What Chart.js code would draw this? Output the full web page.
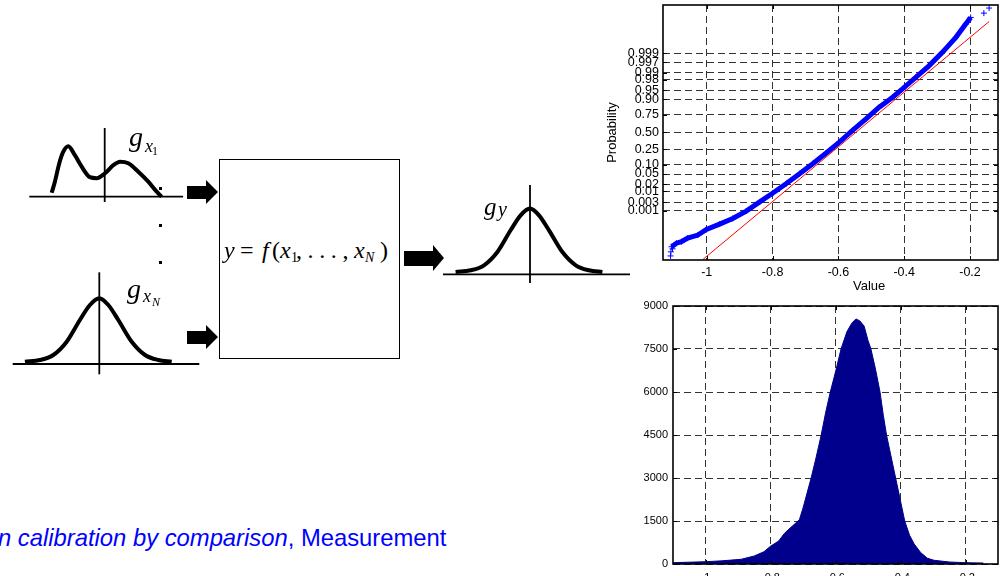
<!DOCTYPE html>
<html><head><meta charset="utf-8">
<script src="https://cdn.jsdelivr.net/npm/chart.js@4.4.0/dist/chart.umd.min.js"></script>
<style>
html,body{margin:0;padding:0;background:#fff;}
#stage{position:relative;width:1003px;height:576px;overflow:hidden;background:#fff;font-family:"Liberation Sans",Arial,sans-serif;}
canvas{position:absolute;display:block;}
.t{position:absolute;white-space:nowrap;line-height:1;}
.serif{font-family:"Liberation Serif","Times New Roman",serif;}
.m{font-size:24px;top:238px;}
.ms{font-size:14px;top:251px;}
.box{position:absolute;left:219px;top:159px;width:181px;height:200px;border:1.6px solid #000;box-sizing:border-box;}
.ab{position:absolute;background:#000;}
.ah{position:absolute;width:0;height:0;border-style:solid;border-color:transparent transparent transparent #000;}
.dot{position:absolute;width:2.5px;height:2.5px;background:#000;}
</style></head>
<body>
<div id="stage">
  <canvas id="gx1" width="165" height="90" style="left:25px;top:120px"></canvas>
  <canvas id="gxN" width="200" height="115" style="left:5px;top:265px"></canvas>
  <canvas id="gy" width="200" height="112" style="left:435px;top:178px"></canvas>
  <canvas id="prob" width="403" height="300" style="left:600px;top:0px"></canvas>
  <canvas id="hist" width="403" height="286" style="left:600px;top:290px"></canvas>

  <div class="box"></div>
  <!-- arrows -->
  <div class="ab" style="left:187px;top:186px;width:20px;height:13px"></div>
  <div class="ah" style="left:206px;top:180px;border-width:12.5px 0 12.5px 12px"></div>
  <div class="ab" style="left:187px;top:331px;width:20px;height:13px"></div>
  <div class="ah" style="left:206px;top:325px;border-width:12.5px 0 12.5px 12px"></div>
  <div class="ab" style="left:404px;top:251px;width:30px;height:15px"></div>
  <div class="ah" style="left:433px;top:245px;border-width:13.5px 0 13.5px 11px"></div>
  <div class="dot" style="left:159px;top:187px"></div>
  <div class="dot" style="left:159px;top:224px"></div>
  <div class="dot" style="left:159px;top:261px"></div>

  <span class="t serif" style="left:129px;top:123px;font-size:28px;font-style:italic">g</span>
  <span class="t serif" style="left:145px;top:137px;font-size:18px;font-style:italic">x</span>
  <span class="t serif" style="left:152px;top:145px;font-size:12px">1</span>

  <span class="t serif" style="left:127px;top:275px;font-size:28px;font-style:italic">g</span>
  <span class="t serif" style="left:143px;top:287px;font-size:18px;font-style:italic">x</span>
  <span class="t serif" style="left:152px;top:296px;font-size:12px;font-style:italic">N</span>

  <span class="t serif" style="left:484px;top:194px;font-size:25px;font-style:italic">g</span>
  <span class="t serif" style="left:498px;top:199px;font-size:20px;font-style:italic">y</span>

  <!-- y = f(x1,...,xN) -->
  <span class="t serif m" style="left:224px;font-style:italic">y</span>
  <span class="t serif m" style="left:240px">=</span>
  <span class="t serif m" style="left:262px;font-style:italic">f</span>
  <span class="t serif m" style="left:272px">(</span>
  <span class="t serif m" style="left:280px;font-style:italic">x</span>
  <span class="t serif ms" style="left:291px">1</span>
  <span class="t serif m" style="left:296px;letter-spacing:5.6px">,...,</span>
  <span class="t serif m" style="left:354px;font-style:italic">x</span>
  <span class="t serif ms" style="left:365px;font-style:italic">N</span>
  <span class="t serif m" style="left:380px">)</span>

  <div class="t" style="left:853px;top:279px;font-size:13px;">Value</div>

  <div class="t" style="left:-2px;top:526px;font-size:23.8px;color:#0000ff"><i>n calibration by comparison</i>, Measurement</div>
</div>
<script>
// ---------------- data ----------------
// left diagram: input / output densities (arbitrary units)
const gx1X = [-2.65,-2.49,-2.27,-2.07,-1.82,-1.49,-1.15,-0.74,-0.40,0.02,0.43,0.77,1.18,1.68,2.18,2.60,2.85];
const gx1Y = [0.08,0.30,0.67,0.90,1.01,0.83,0.60,0.39,0.37,0.47,0.63,0.70,0.67,0.50,0.30,0.10,0.0];
const gaussX = [-3.72,-2.97,-2.30,-1.63,-0.97,-0.47,0,0.45,0.95,1.62,2.29,2.95,3.62];
const gaussY = [0.046,0.08,0.18,0.446,0.88,1.18,1.314,1.18,0.88,0.446,0.18,0.08,0.046];
const gx1AxisH = [-3.77, 3.92], gx1AxisV = [-0.106, 1.374];
const gxNAxisH = [-4.33, 5.0],  gxNAxisV = [-0.206, 1.834];
const gyAxisH  = [-4.35, 5.0],  gyAxisV  = [-0.174, 1.786];

// normal probability plot
const probTickZ = [-3.0902,-2.7478,-2.3263,-2.0537,-1.6449,-1.2816,-0.6745,0,0.6745,1.2816,1.6449,2.0537,2.3263,2.7478,3.0902];
const probTickLabels = ['0.001','0.003','0.01','0.02','0.05','0.10','0.25','0.50','0.75','0.90','0.95','0.98','0.99','0.997','0.999'];
const valueTicks = [-1,-0.8,-0.6,-0.4,-0.2];
const sampleValue = [-1.107,-1.092,-1.077,-1.058,-1.027,-1.001,-0.961,-0.921,-0.880,-0.839,-0.799,-0.758,-0.718,-0.678,-0.637,-0.597,-0.557,-0.516,-0.476,-0.435,-0.405,-0.365,-0.324,-0.284,-0.243,-0.213,-0.198];
const sampleZ     = [-4.50,-4.36,-4.30,-4.16,-4.04,-3.82,-3.61,-3.39,-3.10,-2.74,-2.39,-2.02,-1.63,-1.24,-0.82,-0.39,0.07,0.52,0.98,1.37,1.70,2.15,2.61,3.13,3.72,4.24,4.50];
const tailValue = [-1.110,-1.109,-1.104,-0.158,-0.142];
const tailZ     = [-4.86,-4.70,-4.58,4.67,4.87];
const refLineValue = [-1.011,-0.142];
const refLineZ     = [-4.99,4.34];

// histogram
const histX = [-1.1,-1.09,-1.0,-0.95,-0.89,-0.85,-0.82,-0.80,-0.775,-0.757,-0.74,-0.725,-0.711,-0.70,-0.675,-0.66,-0.644,-0.63,-0.616,-0.60,-0.583,-0.565,-0.55,-0.537,-0.525,-0.512,-0.50,-0.491,-0.477,-0.463,-0.453,-0.443,-0.43,-0.415,-0.40,-0.387,-0.372,-0.358,-0.338,-0.317,-0.297,-0.25,-0.20,-0.145];
const histCount = [45,50,80,110,165,280,430,620,800,1070,1250,1400,1550,1950,3000,3700,4500,5300,6000,6700,7500,8100,8400,8550,8480,8300,7800,7500,6800,6000,5200,4500,3800,3000,2200,1500,1000,700,400,200,130,70,45,35];
const countTicks = [0,1500,3000,4500,6000,7500,9000];

// ---------------- charts ----------------
Chart.defaults.font.family = '"Liberation Sans", Arial, Helvetica, sans-serif';
Chart.defaults.color = '#000';
Chart.defaults.animation = false;
Chart.defaults.devicePixelRatio = 1;

const pts = (xs, ys) => xs.map((x, i) => ({x, y: ys[i]}));

function diagram(id, cx, cy, ah, av, xr, yr) {
  new Chart(document.getElementById(id), {
    type: 'scatter',
    data: { datasets: [
      { data: pts(cx, cy), showLine: true, borderColor: '#000', borderWidth: 4, pointRadius: 0, cubicInterpolationMode: 'monotone', borderJoinStyle: 'round', clip: false },
      { data: pts(ah, [0, 0]), showLine: true, borderColor: '#000', borderWidth: 1.8, pointRadius: 0 },
      { data: pts([0, 0], av), showLine: true, borderColor: '#000', borderWidth: 1.8, pointRadius: 0 }
    ]},
    options: {
      responsive: false, events: [],
      layout: { padding: 0 },
      plugins: { legend: { display: false }, tooltip: { enabled: false } },
      scales: {
        x: { type: 'linear', display: false, min: xr[0], max: xr[1] },
        y: { type: 'linear', display: false, min: yr[0], max: yr[1] }
      }
    }
  });
}
diagram('gx1', gx1X, gx1Y, gx1AxisH, gx1AxisV, [-3.985, 4.265], [-0.266, 1.534]);
diagram('gxN', gaussX, gaussY, gxNAxisH, gxNAxisV, [-4.715, 5.285], [-0.32, 1.98]);
diagram('gy',  gaussX, gaussY, gyAxisH, gyAxisV, [-4.75, 5.25], [-0.314, 1.926]);

const matlabFrame = {
  id: 'matlabFrame',
  afterDatasetsDraw(chart) {
    const {ctx, chartArea: a, scales} = chart;
    const tl = 4;
    ctx.save();
    ctx.strokeStyle = '#000';
    ctx.lineWidth = 1;
    ctx.beginPath();
    scales.x.ticks.forEach(t => {
      const p = Math.round(scales.x.getPixelForValue(t.value)) + 0.5;
      ctx.moveTo(p, a.bottom); ctx.lineTo(p, a.bottom - tl);
      ctx.moveTo(p, a.top); ctx.lineTo(p, a.top + tl);
    });
    scales.y.ticks.forEach(t => {
      const p = Math.round(scales.y.getPixelForValue(t.value)) + 0.5;
      ctx.moveTo(a.left, p); ctx.lineTo(a.left + tl, p);
      ctx.moveTo(a.right, p); ctx.lineTo(a.right - tl, p);
    });
    ctx.stroke();
    ctx.lineWidth = 1.6;
    ctx.strokeRect(a.left, a.top, a.right - a.left, a.bottom - a.top);
    ctx.restore();
  }
};

const gridDash = { display: false, dash: [7, 4] };
const gridOpt = { color: '#333', lineWidth: 1, drawTicks: false };
const fitX = h => s => { s.height = h; s.paddingLeft = 0; s.paddingRight = 0; };
const fitY = w => s => { s.width = w; s.paddingTop = 0; s.paddingBottom = 0; };

new Chart(document.getElementById('prob'), {
  type: 'scatter',
  data: { datasets: [
    { data: pts(refLineValue, refLineZ), showLine: true, borderColor: '#ff0000', borderWidth: 1, pointRadius: 0 },
    { data: pts(sampleValue, sampleZ), showLine: true, borderColor: '#0000ff', borderWidth: 5, pointStyle: 'cross', pointRadius: 3, pointBorderWidth: 1, pointBorderColor: '#0000ff' },
    { data: pts(tailValue, tailZ), showLine: false, pointStyle: 'cross', pointRadius: 3, pointBorderWidth: 1, pointBorderColor: '#0000ff', borderColor: '#0000ff' }
  ]},
  options: {
    responsive: false, events: [],
    layout: { padding: { top: 4, right: 4, left: 0, bottom: 0 } },
    plugins: { legend: { display: false }, tooltip: { enabled: false } },
    scales: {
      x: {
        type: 'linear', min: -1.133, max: -0.115,
        afterBuildTicks: s => { s.ticks = valueTicks.map(v => ({value: v})); },
        afterFit: fitX(40),
        grid: gridOpt, border: gridDash,
        ticks: { autoSkip: false, maxRotation: 0, padding: 5, font: { size: 12.5 }, callback: v => String(v) }
      },
      y: {
        type: 'linear', min: -5.02, max: 4.99,
        afterBuildTicks: s => { s.ticks = probTickZ.map(v => ({value: v})); },
        afterFit: fitY(63),
        grid: gridOpt, border: gridDash,
        title: { display: true, text: 'Probability', font: { size: 13 }, padding: { top: 5, bottom: 0 } },
        ticks: { autoSkip: false, padding: 4, font: { size: 12.5 }, callback: (v, i) => probTickLabels[i] }
      }
    }
  },
  plugins: [matlabFrame]
});

new Chart(document.getElementById('hist'), {
  type: 'scatter',
  data: { datasets: [
    { data: pts(histX, histCount), showLine: true, fill: 'origin', backgroundColor: '#00008c', borderColor: '#00008c', borderWidth: 1, pointRadius: 0, tension: 0 }
  ]},
  options: {
    responsive: false, events: [],
    layout: { padding: { top: 16, right: 5, left: 0, bottom: 0 } },
    plugins: { legend: { display: false }, tooltip: { enabled: false }, filler: { propagate: false } },
    scales: {
      x: {
        type: 'linear', min: -1.1, max: -0.1,
        afterBuildTicks: s => { s.ticks = valueTicks.map(v => ({value: v})); },
        afterFit: fitX(12),
        grid: gridOpt, border: gridDash,
        ticks: { autoSkip: false, maxRotation: 0, padding: 7, font: { size: 11 }, callback: v => String(v) }
      },
      y: {
        type: 'linear', min: 0, max: 9000,
        afterBuildTicks: s => { s.ticks = countTicks.map(v => ({value: v})); },
        afterFit: fitY(73),
        grid: gridOpt, border: gridDash,
        ticks: { autoSkip: false, padding: 5, font: { size: 11 }, callback: v => String(v) }
      }
    }
  },
  plugins: [matlabFrame]
});
</script>
</body></html>
